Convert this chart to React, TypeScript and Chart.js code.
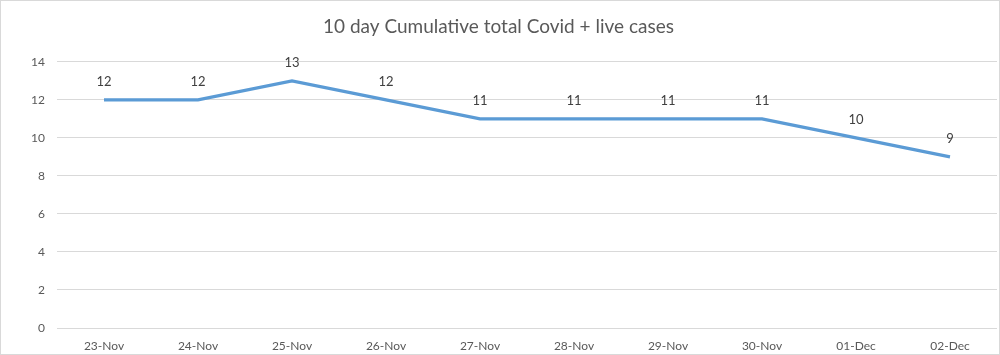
import React, { useEffect, useRef } from "react";
import { Chart, registerables } from "chart.js";

Chart.register(...registerables);

const categories = ["23-Nov", "24-Nov", "25-Nov", "26-Nov", "27-Nov", "28-Nov", "29-Nov", "30-Nov", "01-Dec", "02-Dec"];
const cases = [12, 12, 13, 12, 11, 11, 11, 11, 10, 9];
const titleText = "10 day Cumulative total Covid + live cases";
const FONT = "Lato, 'Open Sans', 'Liberation Sans', sans-serif";

const borderPlugin = {
  id: "outerBorder",
  afterDraw(chart: any) {
    const ctx = chart.ctx;
    ctx.save();
    ctx.strokeStyle = "#d9d9d9";
    ctx.lineWidth = 1;
    ctx.strokeRect(0.5, 0.5, chart.width - 1, chart.height - 1);
    ctx.restore();
  },
};

const labelPlugin = {
  id: "valueLabels",
  afterDatasetsDraw(chart: any) {
    const ctx = chart.ctx;
    const meta = chart.getDatasetMeta(0);
    ctx.save();
    ctx.fillStyle = "#404040";
    ctx.font = `13px ${FONT}`;
    ctx.textAlign = "center";
    ctx.textBaseline = "middle";
    meta.data.forEach((pt: any, i: number) => {
      ctx.fillText(String(cases[i]), pt.x, pt.y - 18);
    });
    ctx.restore();
  },
};

export default function App() {
  const ref = useRef<HTMLCanvasElement>(null);
  useEffect(() => {
    const chart = new Chart(ref.current!, {
      type: "line",
      data: {
        labels: categories,
        datasets: [
          {
            data: cases,
            borderColor: "#5b9bd5",
            backgroundColor: "#5b9bd5",
            borderWidth: 3.2,
            pointRadius: 0,
            tension: 0,
            fill: false,
          },
        ],
      },
      options: {
        animation: false,
        responsive: false,
        maintainAspectRatio: false,
        layout: { padding: { left: 0, right: 3, top: 0, bottom: 0 } },
        plugins: {
          legend: { display: false },
          tooltip: { enabled: false },
          title: {
            display: true,
            text: titleText,
            color: "#595959",
            font: { family: FONT, size: 19, weight: "normal" },
            padding: { top: 15, bottom: 24 },
          },
        },
        scales: {
          x: {
            offset: true,
            grid: { display: false, drawTicks: false },
            border: { display: false },
            ticks: { color: "#595959", font: { family: FONT, size: 12 }, padding: 11, maxRotation: 0 },
            afterFit: (s: any) => { s.height = 27; },
          },
          y: {
            min: 0,
            max: 14,
            ticks: { stepSize: 2, color: "#595959", font: { family: FONT, size: 12 }, padding: 12 },
            grid: { color: "#d9d9d9", lineWidth: 1, drawTicks: false },
            border: { display: false },
            afterFit: (s: any) => { s.width = 57; },
          },
        },
      },
      plugins: [borderPlugin, labelPlugin],
    });
    return () => chart.destroy();
  }, []);
  return (
    <div style={{ position: "fixed", left: 0, top: 0, width: 1000, height: 355, background: "#fff" }}>
      <canvas ref={ref} width={1000} height={355} style={{ width: 1000, height: 355 }} />
    </div>
  );
}
